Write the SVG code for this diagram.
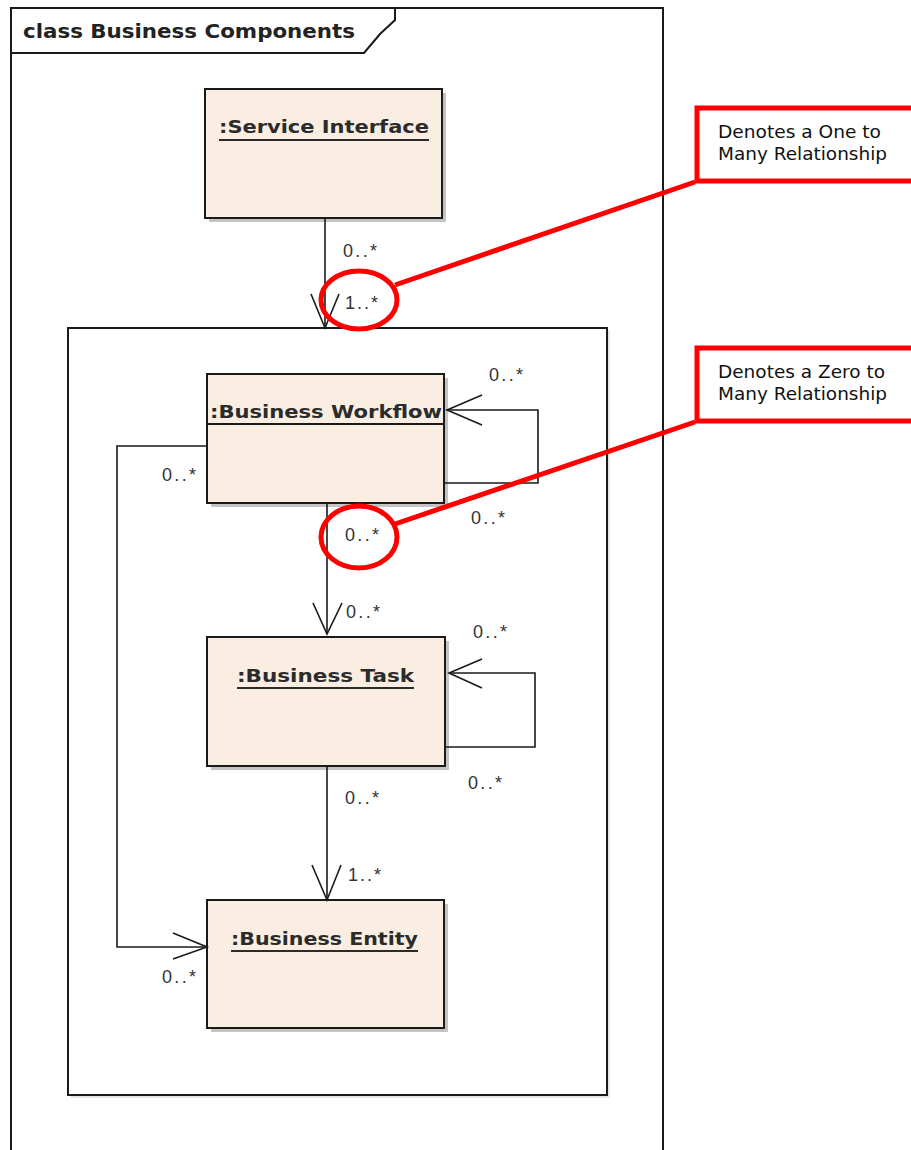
<svg xmlns="http://www.w3.org/2000/svg" width="911" height="1150" viewBox="0 0 911 1150">
<style>
.frame{fill:none;stroke:#1a1a1a;stroke-width:2}
.shadow{fill:#c4c4c4}
.box{fill:#f9eee1;stroke:#1a1a1a;stroke-width:2}
.ntext{font-family:"DejaVu Sans",sans-serif;font-weight:bold;font-size:18px;fill:#2b2b2b}
.ul{stroke:#2b2b2b;stroke-width:2}
.conn{fill:none;stroke:#1a1a1a;stroke-width:1.6}
.lbl{font-family:"Liberation Sans",sans-serif;font-size:18px;fill:#333}
.red{fill:none;stroke:#ff0000;stroke-width:5}
.ctext{font-family:"DejaVu Sans",sans-serif;font-size:17px;fill:#111}
</style>
<rect width="911" height="1150" fill="#ffffff"/>
<g id="frame">
<path class="frame" d="M11,1152 V8 H663 V1152"/>
<path class="frame" d="M11,53 H364 L380,34 L395,20 V8"/>
<text x="23" y="38" font-family="DejaVu Sans, sans-serif" font-weight="bold" font-size="19" fill="#222" textLength="332" lengthAdjust="spacingAndGlyphs">class Business Components</text>
</g>
<g id="inner-frame">
<rect x="71" y="331" width="539" height="767" fill="#e6e6e6"/>
<rect x="68" y="328" width="539" height="767" fill="#ffffff" stroke="#1a1a1a" stroke-width="2"/>
</g>
<g id="service-interface">
<rect class="shadow" x="209" y="93" width="237" height="129"/>
<rect class="box" x="205" y="89" width="237" height="129"/>
<text class="ntext" x="219" y="133" textLength="210" lengthAdjust="spacingAndGlyphs">:Service Interface</text>
<line class="ul" x1="219" y1="140" x2="429" y2="140"/>
</g>
<g id="business-workflow">
<rect class="shadow" x="211" y="378" width="237" height="129"/>
<rect class="box" x="207" y="374" width="237" height="129"/>
<line x1="207" y1="424" x2="444" y2="424" stroke="#1a1a1a" stroke-width="2"/>
<text class="ntext" x="210" y="418" textLength="232" lengthAdjust="spacingAndGlyphs">:Business Workflow</text>
</g>
<g id="business-task">
<rect class="shadow" x="211" y="641" width="238" height="129"/>
<rect class="box" x="207" y="637" width="238" height="129"/>
<text class="ntext" x="237" y="682" textLength="177" lengthAdjust="spacingAndGlyphs">:Business Task</text>
<line class="ul" x1="237" y1="688" x2="414" y2="688"/>
</g>
<g id="business-entity">
<rect class="shadow" x="211" y="904" width="237" height="128"/>
<rect class="box" x="207" y="900" width="237" height="128"/>
<text class="ntext" x="231" y="945" textLength="187" lengthAdjust="spacingAndGlyphs">:Business Entity</text>
<line class="ul" x1="231" y1="951" x2="418" y2="951"/>
</g>
<g id="connectors">
<path class="conn" d="M325,218 V328"/>
<path class="conn" d="M311,294 L325,328 L339,294"/>
<path class="conn" d="M444,483 H538 V410 H447"/>
<path class="conn" d="M482,395 L447,410 L482,425"/>
<path class="conn" d="M207,446 H117 V947 H207"/>
<path class="conn" d="M173,933 L207,947 L173,959"/>
<path class="conn" d="M327,503 V634"/>
<path class="conn" d="M313,603 L327,634 L342,603"/>
<path class="conn" d="M445,747 H535 V673 H449"/>
<path class="conn" d="M482,659 L449,673 L482,688"/>
<path class="conn" d="M327,766 V900"/>
<path class="conn" d="M312,865 L327,900 L341,865"/>
<g id="labels">
<text class="lbl" x="343" y="257" textLength="34" lengthAdjust="spacing">0..*</text>
<text class="lbl" x="345" y="309" textLength="33" lengthAdjust="spacing">1..*</text>
<text class="lbl" x="489" y="381" textLength="34" lengthAdjust="spacing">0..*</text>
<text class="lbl" x="471" y="524" textLength="34" lengthAdjust="spacing">0..*</text>
<text class="lbl" x="162" y="481" textLength="34" lengthAdjust="spacing">0..*</text>
<text class="lbl" x="345" y="541" textLength="34" lengthAdjust="spacing">0..*</text>
<text class="lbl" x="346" y="618" textLength="34" lengthAdjust="spacing">0..*</text>
<text class="lbl" x="473" y="638" textLength="34" lengthAdjust="spacing">0..*</text>
<text class="lbl" x="468" y="789" textLength="34" lengthAdjust="spacing">0..*</text>
<text class="lbl" x="345" y="804" textLength="34" lengthAdjust="spacing">0..*</text>
<text class="lbl" x="348" y="881" textLength="33" lengthAdjust="spacing">1..*</text>
<text class="lbl" x="162" y="983" textLength="34" lengthAdjust="spacing">0..*</text>
</g>
</g>
<g id="callout-one-to-many">
<rect class="red" x="697" y="108" width="230" height="73"/>
<text class="ctext" x="718" y="138" textLength="163" lengthAdjust="spacingAndGlyphs">Denotes a One to</text>
<text class="ctext" x="718" y="160" textLength="169" lengthAdjust="spacingAndGlyphs">Many Relationship</text>
<line class="red" x1="695" y1="182" x2="395" y2="285"/>
<ellipse class="red" cx="359" cy="300" rx="38" ry="29"/>
</g>
<g id="callout-zero-to-many">
<rect class="red" x="697" y="348" width="230" height="73"/>
<text class="ctext" x="718" y="378" textLength="167" lengthAdjust="spacingAndGlyphs">Denotes a Zero to</text>
<text class="ctext" x="718" y="400" textLength="169" lengthAdjust="spacingAndGlyphs">Many Relationship</text>
<line class="red" x1="695" y1="422" x2="395" y2="524"/>
<ellipse class="red" cx="359" cy="537" rx="38" ry="31"/>
</g>
</svg>
